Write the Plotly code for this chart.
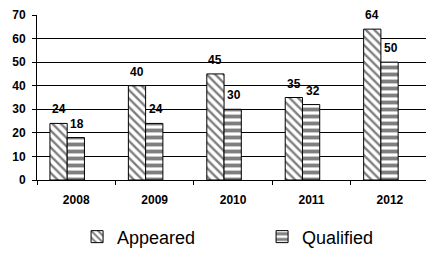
import plotly.graph_objects as go

years = ["2008", "2009", "2010", "2011", "2012"]
appeared = [24, 40, 45, 35, 64]
qualified = [18, 24, 30, 32, 50]

W_BAR = 0.22
OFF_A = -0.335
OFF_Q = OFF_A + W_BAR

fig = go.Figure()
fig.add_trace(go.Bar(
    name="Appeared", x=years, y=appeared, width=W_BAR, offset=OFF_A,
    marker=dict(color="white", line=dict(color="black", width=1),
                pattern=dict(shape="\\", size=6, solidity=0.4, fgcolor="black", bgcolor="white")),
))
fig.add_trace(go.Bar(
    name="Qualified", x=years, y=qualified, width=W_BAR, offset=OFF_Q,
    marker=dict(color="white", line=dict(color="black", width=1),
                pattern=dict(shape="-", size=7, solidity=0.55, fgcolor="black", bgcolor="white")),
))

lab_font = dict(family="Liberation Sans, Arial", size=12, color="black", weight="bold")
for i, v in enumerate(appeared):
    fig.add_annotation(x=i + OFF_A + W_BAR / 2, y=v, text=str(v), showarrow=False,
                       yshift=14, font=lab_font)
for i, v in enumerate(qualified):
    fig.add_annotation(x=i + OFF_Q + W_BAR / 2 + 0.02, y=v, text=str(v), showarrow=False,
                       yshift=14, font=lab_font)

fig.update_layout(
    width=426, height=253,
    margin=dict(l=37, r=0, t=15, b=73, autoexpand=False),
    paper_bgcolor="white", plot_bgcolor="white",
    barmode="overlay",
    showlegend=True,
    legend=dict(orientation="h", x=0.103, xanchor="left", y=-0.345, yanchor="middle",
                font=dict(family="Liberation Sans, Arial", size=18, color="black"),
                entrywidth=140, bgcolor="rgba(0,0,0,0)"),
    xaxis=dict(type="category", range=[-0.5, 4.46], showgrid=False, automargin=False,
               showline=True, linecolor="black", linewidth=1,
               ticks="outside", tickson="boundaries", ticklen=4, tickcolor="black",
               ticklabelstandoff=9,
               tickfont=dict(family="Liberation Sans, Arial", size=12, color="black", weight="bold")),
    yaxis=dict(range=[0, 70], dtick=10, showgrid=True, gridcolor="black", gridwidth=1,
               showline=True, linecolor="black", linewidth=1, automargin=False,
               ticks="outside", ticklen=4, tickcolor="black", zeroline=False,
               ticklabelstandoff=4,
               tickfont=dict(family="Liberation Sans, Arial", size=12, color="black", weight="bold")),
)

fig.write_html("out.html", config={"displayModeBar": False},
               post_script="document.body.style.margin='0';document.body.style.overflow='hidden';")
